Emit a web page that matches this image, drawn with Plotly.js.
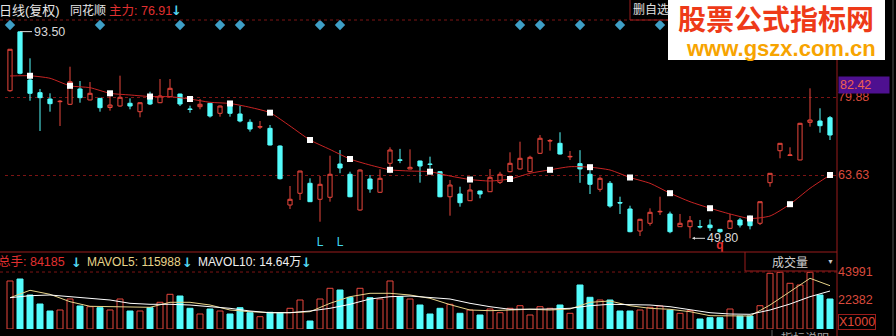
<!DOCTYPE html>
<html><head><meta charset="utf-8">
<script src="https://cdn.plot.ly/plotly-3.0.1.min.js"></script>
<style>html,body{margin:0;padding:0;background:#000;overflow:hidden}#chart{width:896px;height:336px}</style>
</head><body><div id="chart"></div>
<script>
// ---- data ----
const openP  = [81.19,93.45,83.42,80.78,79.46,78.90,78.36,81.55,79.26,79.60,77.69,78.00,78.57,76.82,80.30,78.69,79.94,80.50,77.38,77.86,78.57,76.48,78.60,76.34,74.61,73.60,73.35,69.67,57.38,59.82,61.90,58.57,58.99,65.92,63.78,56.34,62.80,60.03,66.07,66.78,64.88,66.55,65.90,64.32,59.10,59.67,58.28,60.30,60.15,62.11,64.32,64.88,64.32,68.15,70.70,70.23,67.40,66.00,63.78,60.65,61.90,57.90,56.55,51.96,53.57,55.95,55.50,52.86,52.86,52.90,53.20,52.30,52.52,54.26,54.00,53.57,62.03,68.69,67.70,66.76,74.60,74.88,75.57];
const highP  = [89.85,93.50,87.94,81.55,80.65,79.26,86.19,83.21,83.00,79.65,80.71,84.32,79.60,78.80,80.98,83.63,83.63,80.55,78.07,79.46,78.60,78.10,79.00,78.00,75.23,74.88,74.05,69.80,61.34,64.50,62.94,63.42,67.65,68.84,64.32,64.80,63.63,64.82,69.40,69.07,68.98,66.60,67.45,64.40,62.59,61.19,61.75,60.35,64.88,64.30,68.36,70.57,67.65,71.96,71.13,72.53,68.63,68.80,65.50,63.30,62.38,59.11,57.23,54.50,56.69,59.11,56.00,55.51,55.09,54.26,54.40,52.40,55.51,54.70,55.20,58.10,64.00,70.30,69.40,74.50,81.69,77.53,75.92];
const lowP   = [80.98,84.60,79.10,72.80,76.82,73.84,78.21,78.69,79.20,76.82,77.03,77.86,77.32,75.65,78.20,78.60,79.90,78.00,76.60,77.32,75.60,75.78,75.78,74.60,72.65,73.21,69.80,62.70,56.55,58.42,58.00,53.90,58.07,64.00,59.00,56.20,59.94,59.90,64.00,66.10,64.85,62.03,64.00,59.00,55.15,57.03,58.20,58.78,60.10,61.75,64.20,64.80,64.20,68.00,68.70,67.90,66.75,62.00,59.67,60.15,56.82,55.50,51.70,50.92,53.07,55.30,51.50,52.80,50.44,52.50,51.98,51.60,52.50,52.70,52.30,53.21,61.19,67.11,67.60,66.70,73.70,72.44,70.92];
const closeP = [89.82,84.82,80.65,79.74,78.49,78.98,83.07,79.74,80.65,77.65,78.21,79.82,78.00,78.69,78.42,80.09,81.69,78.42,77.30,78.36,75.92,78.00,76.48,74.88,73.21,73.70,69.88,62.86,58.57,64.46,58.07,61.69,63.78,65.09,59.10,64.67,60.71,62.94,68.84,66.70,65.23,65.50,65.85,59.10,61.55,57.86,60.51,59.67,63.15,63.78,66.07,67.11,67.32,71.28,70.80,68.00,67.50,64.90,61.69,62.94,57.17,57.80,51.82,54.40,55.86,56.05,51.82,53.57,54.11,52.82,52.65,51.82,54.11,53.21,53.07,58.07,63.98,70.23,67.80,74.40,75.09,73.90,71.96];
const volume = [37056,38600,26248,19300,13896,14668,23160,17756,17216,16444,14668,23160,13896,13896,16444,20612,26788,25476,15980,11580,15440,13896,11580,16444,12584,9496,12892,12584,15980,22388,6176,23160,31420,30108,24472,31420,24164,23160,37056,24936,23160,18528,11580,15980,19068,12120,14668,10808,15440,12584,15980,17988,10808,17216,15980,18528,12120,33968,24472,22388,22388,13896,13896,14668,16752,17756,14668,12120,14128,7720,8724,8724,15440,10036,10036,17988,43000,43772,35280,33968,43772,26248,23160];
// moving averages read at every second session
const maIdx   = [0,2,4,6,8,10,12,14,16,18,20,22,24,26,28,30,32,34,36,38,40,42,44,46,48,50,52,54,56,58,60,62,64,66,68,70,72,74,76,78,80,82];
const maPrice = [84.26,84.30,83.78,82.21,81.82,80.65,80.30,79.98,79.94,79.46,78.78,78.53,77.73,76.61,73.84,70.92,68.95,66.96,65.71,64.71,64.46,64.32,63.42,62.69,62.38,62.80,63.98,64.71,65.36,65.26,64.67,63.11,61.90,59.84,58.07,56.71,55.51,54.57,55.09,57.55,60.86,63.63];
const mavol5  = [24164,29876,26788,21076,17524,17216,17216,16752,20612,20612,18528,14668,13356,12584,12584,13356,19840,24936,27560,27560,26248,23700,18800,14668,14128,14668,15208,14668,15440,20612,21616,17988,15980,15208,13356,10268,10036,10036,18528,28796,39140,33428];
const mavol10 = [24164,25708,26248,24936,23160,22388,19840,19068,19068,18528,17216,15980,13896,12584,12584,13896,15980,19068,23160,24936,25476,24472,23160,19840,17216,15208,15208,15440,15980,17988,19068,19068,18528,17216,14668,12584,11580,11348,14668,19300,24936,29336];
const signalIdx = [0,9,17,21,23,31,33,51,53,57,61,65];
const lIdx = [31,33];
const qIdx = [71];
const priceTicks = [79.88,63.63];
const volTicks = [43991,22382];
const lastPrice = 82.42;
const highMark = {i:1, v:93.50};
const lowMark = {i:68, v:49.80};

// ---- layout helpers ----
const W=896,H=336,ML=5,MR=59,PW=W-ML-MR;
const px=p=>(p-ML)/PW, py=p=>(H-p)/H;
const idx = openP.map((_,i)=>i);
const RED='#e8463c', CYAN='#54fcfc', DOT='#7c1414', BORD='#9a1c1c';
const up = idx.map(i=>closeP[i]>=openP[i]);
const F='Liberation Sans, Arial, Noto Sans CJK SC, sans-serif';
const FA='DejaVu Sans, sans-serif';

const traces = [
 {type:'candlestick', x:idx, open:openP, high:highP, low:lowP, close:closeP,
  increasing:{line:{color:RED,width:1},fillcolor:'#000000'},
  decreasing:{line:{color:CYAN,width:1},fillcolor:CYAN},
  whiskerwidth:0, hoverinfo:'none', xaxis:'x', yaxis:'y'},
 {type:'scatter', mode:'lines', x:maIdx, y:maPrice, line:{color:'#c82424',width:1,shape:'spline',smoothing:0.6}, hoverinfo:'none'},
 {type:'scatter', mode:'markers', x:maIdx.filter(i=>i%4===2), y:maPrice.filter((v,k)=>maIdx[k]%4===2),
  marker:{symbol:'square',size:6,color:'#ffffff'}, hoverinfo:'none'},
 {type:'scatter', mode:'markers', x:signalIdx, y:signalIdx.map(()=>94.88), cliponaxis:false,
  marker:{symbol:'diamond',size:8,color:'#3f9fc6'}, hoverinfo:'none'},
 {type:'scatter', mode:'text', x:lIdx, y:lIdx.map(()=>49.5), text:lIdx.map(()=>'L'), cliponaxis:false,
  textfont:{color:'#3fd8f0',size:12,family:F}, hoverinfo:'none'},
 {type:'scatter', mode:'text', x:qIdx, y:qIdx.map(()=>48.8), text:qIdx.map(()=>'<b>q</b>'), cliponaxis:false,
  textfont:{color:'#e03030',size:12,family:F}, hoverinfo:'none'},
 {type:'bar', x:idx, y:volume, xaxis:'x', yaxis:'y2', width:0.6,
  marker:{color:up.map(u=>u?'#000000':CYAN), line:{color:up.map(u=>u?RED:CYAN),width:1}}, hoverinfo:'none'},
 {type:'scatter', mode:'lines', x:maIdx, y:mavol5, yaxis:'y2', line:{color:'#e8d48a',width:1}, hoverinfo:'none'},
 {type:'scatter', mode:'lines', x:maIdx, y:mavol10, yaxis:'y2', line:{color:'#ffffff',width:1}, hoverinfo:'none'}
];

function ann(text,x,y,color,size,xa,extra,fam){
  return Object.assign({xref:'paper',yref:'paper',x:px(x),y:py(y),text:text,showarrow:false,
    xanchor:xa||'left',yanchor:'middle',font:{color:color,size:size||12,family:fam||F}},extra||{});
}
const ARW='#54d8f0';
const annotations = [
 ann('日线(复权)',-3,11,'#e6e6e6',13),
 ann('同花顺',68,11,'#e6e6e6',12),
 ann('主力: 76.91',107,11,'#e03030',12.5),
 ann('<b>↓</b>',176,11,ARW,13,'center',null,FA),
 ann('总手: 84185',-4,262,'#e03030',12.5),
 ann('<b>↓</b>',76,262,ARW,13,'center',null,FA),
 ann('MAVOL5: 115988',85,262,'#e8d48a',12),
 ann('<b>↓</b>',187,262,ARW,13,'center',null,FA),
 ann('MAVOL10: 14.64万',196,262,'#f0f0f0',12),
 ann('<b>↓</b>',306,262,ARW,13,'center',null,FA),
 ann('删自选',631,10,'#e0e0e0',12),
 ann('成交量',790,262,'#d0d0d0',12,'center'),
 ann('▼',830,261,'#c8c8c8',7,'center'),
 ann(lastPrice.toFixed(2),838,85,'#f06050',12.5,'left',{bgcolor:'#4e1090',width:48,align:'left',borderpad:1}),
 ann('X1000',838,322,'#e04838',12.5,'left',{bordercolor:BORD,borderwidth:1,borderpad:0}),
 ann('指标说明',805,338,'#a0a0a0',12,'center',{yanchor:'middle'}),
 ann('<b>股票公式指标网</b>',776,20,'#ee3a18',28,'center',{borderpad:0}),
 ann('<b>www.gszx.com.cn</b>',781,48,'#f7a400',22,'center',{borderpad:0}),
 {xref:'x',yref:'y',x:highMark.i,y:highMark.v,ax:12,ay:0,text:highMark.v.toFixed(2),showarrow:true,arrowhead:0,arrowwidth:1,arrowcolor:'#d8d8d8',xanchor:'left',font:{color:'#d8d8d8',size:12.5,family:F}},
 {xref:'x',yref:'y',x:lowMark.i+0.2,y:50.44,ax:13,ay:0,text:lowMark.v.toFixed(2),showarrow:true,arrowhead:2,arrowsize:0.6,arrowwidth:1,arrowcolor:'#d8d8d8',xanchor:'left',font:{color:'#d8d8d8',size:12.5,family:F}}
];

const shapes = [
 {type:'line',xref:'paper',yref:'paper',x0:px(0),x1:1,y0:py(20),y1:py(20),line:{color:DOT,width:1,dash:'dot'}},
 {type:'line',xref:'paper',yref:'paper',x0:px(0),x1:1,y0:py(252),y1:py(252),line:{color:BORD,width:1}},
 {type:'line',xref:'paper',yref:'y2',x0:px(0),x1:1,y0:volTicks[0],y1:volTicks[0],line:{color:DOT,width:1,dash:'dot'}},
 {type:'line',xref:'paper',yref:'paper',x0:1,x1:1,y0:0,y1:1,line:{color:BORD,width:1}},
 {type:'line',xref:'paper',yref:'paper',x0:px(893),x1:px(893),y0:0,y1:1,line:{color:'#505050',width:1}},
 {type:'line',xref:'paper',yref:'paper',x0:px(745),x1:px(745),y0:py(252),y1:py(271),line:{color:BORD,width:1}},
 {type:'line',xref:'paper',yref:'paper',x0:px(745),x1:1,y0:py(271),y1:py(271),line:{color:BORD,width:1}},
 {type:'line',xref:'paper',yref:'paper',x0:px(630),x1:px(630),y0:py(0),y1:py(20),line:{color:BORD,width:1}},
 {type:'line',xref:'paper',yref:'paper',x0:px(630),x1:px(668),y0:py(20),y1:py(20),line:{color:BORD,width:1}},
 {type:'line',xref:'paper',yref:'paper',x0:px(772),x1:px(772),y0:py(330),y1:py(336),line:{color:'#606060',width:1}},
 {type:'rect',xref:'paper',yref:'paper',x0:px(668),x1:px(885),y0:py(0),y1:py(60),fillcolor:'#ffffff',line:{width:0},layer:'above'}
];

const axisCommon = {showgrid:false,zeroline:false,showline:false,fixedrange:true};
const layout = {
  width:W,height:H,margin:{l:ML,r:MR,t:0,b:0},
  paper_bgcolor:'#000000',plot_bgcolor:'#000000',showlegend:false,hovermode:false,
  boxgap:0.4, bargap:0,
  xaxis:Object.assign({},axisCommon,{range:[-0.5,82.7],showticklabels:false,ticks:'',rangeslider:{visible:false}}),
  yaxis:Object.assign({},axisCommon,{domain:[py(252),py(20)],range:[47.59,95.92],side:'right',
     tickvals:priceTicks,ticktext:priceTicks.map(v=>v.toFixed(2)),ticks:'',
     tickfont:{color:'#d94a3c',size:12.5,family:F},showgrid:true,gridcolor:DOT,griddash:'dot',gridwidth:1}),
  yaxis2:Object.assign({},axisCommon,{domain:[py(329),py(270)],range:[0,45548],side:'right',
     tickvals:volTicks,ticktext:volTicks.map(String),ticks:'',
     tickfont:{color:'#d94a3c',size:12.5,family:F}}),
  shapes:shapes, annotations:annotations
};
Plotly.newPlot('chart',traces,layout,{staticPlot:true,displayModeBar:false});
</script></body></html>
